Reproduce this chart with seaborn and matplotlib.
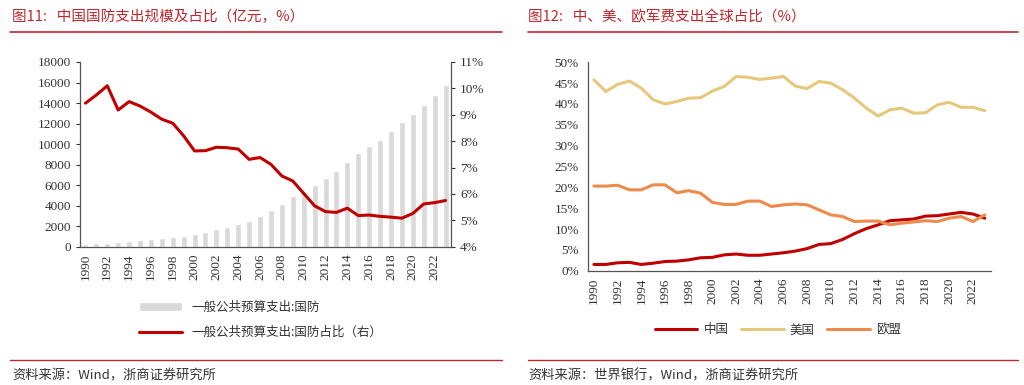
import pandas as pd
import numpy as np
import matplotlib
matplotlib.use('Agg')
import matplotlib.pyplot as plt
import seaborn as sns

sns.set_theme(style='white')
plt.rcParams['font.family'] = ['Liberation Serif', 'Noto Sans CJK SC', 'DejaVu Sans']
plt.rcParams['axes.unicode_minus'] = False

RED = '#c0272d'
CJK = ['Noto Sans CJK SC', 'DejaVu Sans']

years = list(range(1990, 2024))

# 一般公共预算支出:国防 (亿元)
defense = [290, 330, 378, 426, 551, 637, 720, 813, 934, 1076,
           1208, 1442, 1708, 1908, 2200, 2475, 2979, 3555, 4179, 4951,
           5333, 6028, 6692, 7411, 8290, 9088, 9766, 10433, 11280, 12122,
           12918, 13787, 14752, 15804]
# 国防占比 (%)
defense_share = [9.44, 9.75, 10.1, 9.18, 9.5, 9.33, 9.1, 8.83, 8.68, 8.2,
                 7.63, 7.64, 7.77, 7.75, 7.7, 7.31, 7.38, 7.12, 6.68, 6.49,
                 6.02, 5.55, 5.33, 5.3, 5.46, 5.18, 5.2, 5.15, 5.12, 5.08,
                 5.26, 5.62, 5.67, 5.75]

# 全球军费占比 (%)
china = [1.5, 1.5, 1.9, 2.0, 1.5, 1.8, 2.2, 2.3, 2.6, 3.1,
         3.2, 3.8, 4.0, 3.7, 3.7, 4.0, 4.3, 4.7, 5.3, 6.3,
         6.5, 7.5, 8.9, 10.1, 11.0, 12.0, 12.2, 12.4, 13.1, 13.2,
         13.6, 14.0, 13.6, 12.6]
usa = [45.8, 43.0, 44.7, 45.5, 43.8, 41.0, 40.0, 40.6, 41.4, 41.5,
       43.1, 44.2, 46.6, 46.4, 45.9, 46.2, 46.6, 44.3, 43.7, 45.4,
       45.0, 43.4, 41.4, 39.0, 37.1, 38.6, 39.0, 37.8, 37.9, 39.8,
       40.4, 39.2, 39.2, 38.4]
eu = [20.3, 20.3, 20.5, 19.4, 19.4, 20.6, 20.6, 18.7, 19.2, 18.6,
      16.4, 15.9, 15.9, 16.7, 16.7, 15.4, 15.8, 16.0, 15.8, 14.6,
      13.4, 13.0, 11.8, 11.9, 11.9, 11.0, 11.4, 11.7, 12.0, 11.8,
      12.6, 13.0, 11.8, 13.4]

pos = np.arange(len(years))
year_labels = [str(y) if y % 2 == 0 else '' for y in years]

fig = plt.figure(figsize=(10.24, 3.85), dpi=100)
fig.patch.set_facecolor('white')

# headers / footers
fig.text(12/1024, 1 - 17/385, '图11:   中国国防支出规模及占比（亿元，%）', color=RED,
         fontsize=10.5, family=CJK, va='center')
fig.text(528/1024, 1 - 17/385, '图12:   中、美、欧军费支出全球占比（%）', color=RED,
         fontsize=10.5, family=CJK, va='center')
for x0, x1 in [(10, 502), (528, 1018)]:
    fig.add_artist(plt.Line2D([x0/1024, x1/1024], [1 - 32/385]*2, color=RED, lw=1.2))
    fig.add_artist(plt.Line2D([x0/1024, x1/1024], [1 - 360/385]*2, color=RED, lw=1.0))
fig.text(12/1024, 1 - 376/385, '资料来源：Wind，浙商证券研究所', fontsize=9.5,
         family=CJK, va='center', color='#333333')
fig.text(528/1024, 1 - 376/385, '资料来源：世界银行，Wind，浙商证券研究所', fontsize=9.5,
         family=CJK, va='center', color='#333333')

tick_kw = dict(labelsize=9.5, colors='#333333', length=3, width=0.8)

# ---- 图11 ----
ax1 = fig.add_axes([80/1024, 1 - 246.7/385, 371/1024, 184.7/385])
df1 = pd.DataFrame({'pos': pos, 'defense': defense, 'share': defense_share})
sns.barplot(data=df1, x='pos', y='defense', color='#d9d9d9', width=0.55,
            saturation=1, ax=ax1, label='一般公共预算支出:国防')
if ax1.get_legend() is not None:
    ax1.get_legend().remove()
ax1.set_xlim(-0.5, len(years) - 0.5)
ax1.set_ylim(0, 18000)
ax1.set_yticks(range(0, 18001, 2000))
ax1.set_xticks(pos)
ax1.set_xticklabels(year_labels, rotation=90)
ax1.set_xlabel(''); ax1.set_ylabel('')
ax1.tick_params(axis='both', which='major', direction='out', **tick_kw)
ax1.tick_params(axis='x', pad=2)

ax2 = ax1.twinx()
sns.lineplot(data=df1, x='pos', y='share', color='#c00000', lw=2.2, ax=ax2,
             label='一般公共预算支出:国防占比（右）', legend=False)
ax2.set_ylim(4, 11)
ax2.set_yticks(range(4, 12))
ax2.set_yticklabels([f'{v}%' for v in range(4, 12)])
ax2.set_ylabel('')
ax2.tick_params(axis='y', direction='out', **tick_kw)
for a in (ax1, ax2):
    a.set_facecolor('none')
    a.spines['top'].set_visible(False)
    for s in ('left', 'right', 'bottom'):
        a.spines[s].set_color('#555555')
        a.spines[s].set_linewidth(0.9)
ax1.spines['right'].set_visible(False)
ax2.spines['left'].set_visible(False)
ax2.spines['bottom'].set_visible(False)

h1, l1 = ax1.get_legend_handles_labels()
h2, l2 = ax2.get_legend_handles_labels()
fig.legend(h1 + h2, l1 + l2, loc='center left', bbox_to_anchor=(128/1024, 1 - 320/385),
           frameon=False, ncol=1, handlelength=3.4, labelspacing=1.0,
           prop={'family': CJK, 'size': 9}, labelcolor='#333333')

# ---- 图12 ----
ax3 = fig.add_axes([588/1024, 1 - 270.7/385, 402.7/1024, 208.4/385])
df2 = pd.DataFrame({'pos': np.tile(pos, 3),
                    'value': china + usa + eu,
                    'region': ['中国'] * len(years) + ['美国'] * len(years) + ['欧盟'] * len(years)})
sns.lineplot(data=df2, x='pos', y='value', hue='region', lw=2.2, ax=ax3,
             palette={'中国': '#c00000', '美国': '#e6c87c', '欧盟': '#ee8a4c'})
ax3.set_xlim(-0.5, len(years) - 0.5)
ax3.set_ylim(0, 50)
ax3.set_yticks(range(0, 51, 5))
ax3.set_yticklabels([f'{v}%' for v in range(0, 51, 5)])
ax3.set_xticks(pos)
ax3.set_xticklabels(year_labels, rotation=90)
ax3.set_xlabel(''); ax3.set_ylabel('')
ax3.tick_params(axis='both', direction='out', **tick_kw)
ax3.tick_params(axis='x', pad=2)
ax3.set_facecolor('none')
ax3.spines['top'].set_visible(False)
ax3.spines['right'].set_visible(False)
for s in ('left', 'bottom'):
    ax3.spines[s].set_color('#555555')
    ax3.spines[s].set_linewidth(0.9)
ax3.legend(loc='center', bbox_to_anchor=(778/1024, 1 - 330/385), bbox_transform=fig.transFigure,
           frameon=False, ncol=3, handlelength=3.4, columnspacing=1.0, handletextpad=0.5,
           prop={'family': CJK, 'size': 9}, labelcolor='#333333')

fig.savefig('out.png', dpi=100, facecolor='white')
